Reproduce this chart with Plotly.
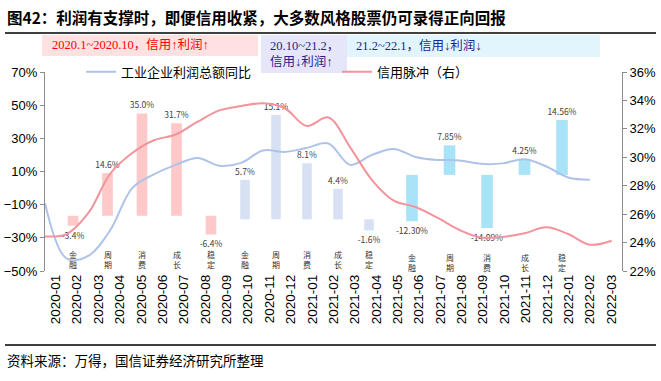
import plotly.graph_objects as go

# ---------------- data ----------------
months = ["2020-01", "2020-02", "2020-03", "2020-04", "2020-05", "2020-06", "2020-07",
          "2020-08", "2020-09", "2020-10", "2020-11", "2020-12", "2021-01", "2021-02",
          "2021-03", "2021-04", "2021-05", "2021-06", "2021-07", "2021-08", "2021-09",
          "2021-10", "2021-11", "2021-12", "2022-01", "2022-02", "2022-03"]

# 工业企业利润总额同比 (left axis, %)
profit_yoy = [-9.1, -42.6, -40.8, -25.2, 0.0, 8.3, 14.0, 18.2, 13.5, 15.2, 22.7, 21.8,
              24.2, 26.9, 14.0, 20.0, 23.6, 18.8, 17.0, 16.7, 14.6, 14.9, 17.4, 13.0,
              6.4, 5.0, None]

# 信用脉冲 (right axis, %)
credit_impulse = [24.43, 24.6, 26.1, 28.86, 30.3, 31.2, 31.6, 32.5, 33.3, 33.6, 33.8,
                  33.45, 32.2, 32.8, 30.7, 28.4, 26.95, 26.5, 25.75, 24.9, 24.35, 24.4,
                  24.65, 25.07, 24.6, 23.85, 24.13]

styles = ["金融", "周期", "消费", "成长", "稳定"]
ret_p1 = [-3.4, 14.6, 35.0, 31.7, -6.4]        # 2020.1~2020.10
ret_p2 = [5.7, 15.1, 8.1, 4.4, -1.6]           # 20.10~21.2
ret_p3 = [-12.30, 7.85, -14.09, 4.25, 14.56]   # 21.2~22.1

period_texts = ["2020.1~2020.10，信用↑利润↑", "20.10~21.2，<br>信用↓利润↑", "21.2~22.1，信用↓利润↓"]
title_text = "图42：利润有支撑时，即便信用收紧，大多数风格股票仍可录得正向回报"
source_text = "资料来源：万得，国信证券经济研究所整理"
legend_names = ["工业企业利润总额同比", "信用脉冲（右）"]

# ---------------- layout helpers ----------------
W, H = 661, 381
L, R, T, B = 45, 39, 72, 110
PW = W - L - R
PH = H - T - B


def px(x):
    return (x - L) / PW


def py(y):
    return (H - B - y) / PH


SANS = "Liberation Sans, Arial, sans-serif"
CJK = "Noto Sans CJK SC, sans-serif"
SERIF = "Liberation Serif, Noto Sans CJK SC, serif"

C_BLUE_LINE = "#AFC3E8"
C_RED_LINE = "#F3939B"
C_BAR1 = "#FFC9C9"
C_BAR2 = "#D8E1F3"
C_BAR3 = "#A9E3F7"

fig = go.Figure()

# empty carrier so the month axis and both value axes are laid out on the main subplot
fig.add_trace(go.Scatter(x=months, y=[None] * len(months), xaxis="x", yaxis="y",
                         mode="lines", showlegend=False, hoverinfo="skip"))

# bars: each period on its own overlaid category axis / value axis
groups = [
    (ret_p1, "x2", "y3", C_BAR1, "{:.1f}%"),
    (ret_p2, "x3", "y4", C_BAR2, "{:.1f}%"),
    (ret_p3, "x4", "y5", C_BAR3, "{:.2f}%"),
]
for vals, xa, ya, col, fmt in groups:
    fig.add_trace(go.Bar(
        x=styles, y=vals, xaxis=xa, yaxis=ya, marker_color=col, width=0.31,
        marker_line_width=0,
        text=[fmt.format(v) for v in vals], textposition="outside",
        constraintext="none", cliponaxis=False,
        textfont=dict(family=CJK, size=8.5, color="#404040"),
        showlegend=False, hoverinfo="skip"))

# lines on top (own month axis, first month at the left edge)
fig.add_trace(go.Scatter(
    x=months, y=profit_yoy, xaxis="x5", yaxis="y", mode="lines",
    line=dict(color=C_BLUE_LINE, width=2, shape="spline"),
    name=legend_names[0], legend="legend"))
fig.add_trace(go.Scatter(
    x=months, y=credit_impulse, xaxis="x5", yaxis="y2", mode="lines",
    line=dict(color=C_RED_LINE, width=2, shape="spline"),
    name=legend_names[1], legend="legend2"))

axis_line = dict(showline=True, linecolor="#8C8C8C", linewidth=1, ticks="outside",
                 ticklen=4, tickcolor="#8C8C8C", showgrid=False, zeroline=False,
                 automargin=False,
                 tickfont=dict(family=SANS, size=13, color="#000000"))

hidden = dict(visible=False, showgrid=False, zeroline=False, automargin=False)

# bar groups: (first bar centre px, bar spacing px), value-axis range
group_geom = [(73, 34.5), (245, 31.0), (412, 37.5)]
group_yranges = [[-18.9, 49.2], [-7.47, 21.3], [-25.5, 27.3]]

fig.update_layout(
    template="none",
    width=W, height=H,
    margin=dict(l=L, r=R, t=T, b=B, autoexpand=False),
    paper_bgcolor="white", plot_bgcolor="rgba(0,0,0,0)",
    xaxis=dict(type="category", categoryorder="array", categoryarray=months,
               range=[-0.5, len(months) - 0.5], tickangle=-90, ticks="",
               showline=False, showgrid=False, zeroline=False, anchor="y",
               automargin=False,
               tickfont=dict(family=SANS, size=13.5, color="#000000")),
    yaxis=dict(range=[-50, 70], tick0=-50, dtick=20, ticksuffix="%", side="left",
               anchor="x", **axis_line),
    yaxis2=dict(range=[22, 36], tick0=22, dtick=2, ticksuffix="%", side="right",
                overlaying="y", anchor="x", **axis_line),
    xaxis5=dict(type="category", categoryorder="array", categoryarray=months,
                range=[0, 26.47], overlaying="x", anchor="y", **hidden),
    legend=dict(x=px(81), y=py(71.7), xanchor="left", yanchor="middle",
                orientation="h", bgcolor="rgba(0,0,0,0)", itemwidth=30,
                font=dict(family=CJK, size=13, color="#000000")),
    legend2=dict(x=px(337), y=py(71.7), xanchor="left", yanchor="middle",
                 orientation="h", bgcolor="rgba(0,0,0,0)", itemwidth=30,
                 font=dict(family=CJK, size=13, color="#000000")),
    showlegend=True,
)

for i, ((c0, s), yr) in enumerate(zip(group_geom, group_yranges)):
    r0 = -(c0 - L) / s
    fig.update_layout(**{
        f"xaxis{i + 2}": dict(type="category", categoryorder="array", categoryarray=styles,
                              range=[r0, r0 + PW / s], overlaying="x", anchor="y", **hidden),
        f"yaxis{i + 3}": dict(range=yr, overlaying="y", anchor="x", **hidden),
    })

# style labels under bars
label_y = [259, 259, 262]
annotations = []
for xa, ly in zip(["x2", "x3", "x4"], label_y):
    for s in styles:
        annotations.append(dict(x=s, y=py(ly), xref=xa, yref="paper",
                                text="<br>".join(list(s)), showarrow=False,
                                font=dict(family=CJK, size=8, color="#333333"),
                                yanchor="middle"))

# title and source
annotations.append(dict(x=px(5), y=py(17), xref="paper", yref="paper", text=title_text,
                        showarrow=False, xanchor="left", yanchor="middle",
                        font=dict(family=CJK, size=15.5, color="#000000", weight="bold")))
annotations.append(dict(x=px(5), y=py(360), xref="paper", yref="paper", text=source_text,
                        showarrow=False, xanchor="left", yanchor="middle",
                        font=dict(family=CJK, size=13.5, color="#000000")))

# period boxes
shapes = []
boxes = [((42, 35, 258, 56), "#FFE1E1"), ((261, 35, 347, 73), "#E6E6FA"),
         ((347, 35, 600, 57), "#E2F5FC")]
for (x0, y0, x1, y1), c in boxes:
    shapes.append(dict(type="rect", xref="paper", yref="paper", x0=px(x0), x1=px(x1),
                       y0=py(y1), y1=py(y0), fillcolor=c, line=dict(width=0), layer="below"))
shapes.append(dict(type="line", xref="paper", yref="paper", x0=px(5), x1=px(656),
                   y0=py(33), y1=py(33), line=dict(color="#000000", width=1.3)))
shapes.append(dict(type="line", xref="paper", yref="paper", x0=px(5), x1=px(656),
                   y0=py(345), y1=py(345), line=dict(color="#000000", width=1.3)))

annotations.append(dict(x=px(50), y=py(45.5), xref="paper", yref="paper",
                        text=period_texts[0], showarrow=False, xanchor="left",
                        yanchor="middle", font=dict(family=SERIF, size=12.5, color="#FF0000")))
annotations.append(dict(x=px(268), y=py(54), xref="paper", yref="paper",
                        text=period_texts[1], showarrow=False, xanchor="left", align="left",
                        yanchor="middle", font=dict(family=SERIF, size=12.5, color="#23238E")))
annotations.append(dict(x=px(354), y=py(46), xref="paper", yref="paper",
                        text=period_texts[2], showarrow=False, xanchor="left",
                        yanchor="middle", font=dict(family=SERIF, size=12.5, color="#23238E")))

fig.update_layout(annotations=annotations, shapes=shapes)

fig.write_html("out.html", config={"displayModeBar": False},
               post_script="document.body.style.margin='0';document.body.style.overflow='hidden';")
